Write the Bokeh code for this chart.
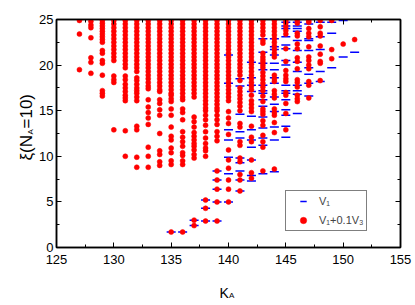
import math
from bokeh.plotting import figure
from bokeh.layouts import column, row
from bokeh.models import (Range1d, LinearAxis, SingleIntervalTicker, Label,
                          Legend, LegendItem, ColumnDataSource, CustomJSTickFormatter)
from bokeh.embed import file_html
from bokeh.resources import INLINE

# ---- V1 + 0.1 V3 (red dots), xi values per K_A ----
red_127 = [24.9, 23.4, 19.5]
red_128 = [24.8, 24.4, 24.1, 23.0, 20.8, 20.3, 19.1]
red_129 = [24.9, 24.6, 24.3, 24.0, 23.7, 23.4, 23.1, 22.8, 22.5, 21.6, 21.3, 20.5, 20.2, 18.9, 17.2, 16.9, 16.6]
red_130 = [24.9, 24.5, 24.1, 23.7, 23.3, 22.9, 22.5, 22.1, 21.7, 21.3, 20.9, 20.5, 18.8, 18.4, 18.1, 12.9]
red_131 = [24.9, 24.5, 24.1, 23.7, 23.3, 22.9, 22.5, 22.1, 21.7, 21.3, 20.9, 20.5, 20.1, 19.7, 18.8, 18.4,
           17.9, 17.5, 17.1, 16.7, 16.4, 16.1, 12.8, 10.0]
red_132 = [24.9, 24.5, 24.1, 23.7, 23.3, 22.9, 22.5, 22.1, 21.7, 21.3, 20.9, 20.5, 20.1, 19.7, 19.3, 18.6,
           18.3, 17.9, 17.5, 17.2, 16.9, 16.5, 16.1, 13.3, 12.9, 9.9, 8.8]
red_133 = [24.9, 24.5, 24.1, 23.7, 23.3, 22.9, 22.5, 22.1, 21.7, 21.3, 20.9, 20.5, 20.1, 19.7, 19.3, 18.9,
           18.5, 18.1, 17.7, 17.4, 16.2, 15.4, 14.8, 14.2, 13.5, 11.0, 10.0, 8.8]
red_134 = [24.9, 24.5, 24.1, 23.7, 23.3, 22.9, 22.5, 22.1, 21.7, 21.3, 20.9, 20.5, 20.1, 19.7, 19.3, 18.9,
           18.5, 18.1, 17.7, 17.3, 17.1, 16.2, 15.8, 15.1, 14.5, 12.5, 10.6, 10.2, 9.4, 9.0]
red_135 = [24.9, 24.5, 24.1, 23.7, 23.3, 22.9, 22.5, 22.1, 21.7, 21.3, 20.9, 20.5, 20.1, 19.7, 19.3, 18.9,
           18.5, 18.1, 17.7, 17.3, 16.9, 16.7, 16.3, 16.0, 15.2, 14.5, 13.2, 12.2, 11.8, 10.9, 10.4, 9.5,
           9.1, 1.7]
red_136 = [24.9, 24.5, 24.1, 23.7, 23.3, 22.9, 22.5, 22.1, 21.7, 21.3, 20.9, 20.5, 20.1, 19.7, 19.3, 18.9,
           18.5, 18.1, 17.7, 17.3, 16.9, 16.5, 16.2, 15.2, 14.8, 14.0, 12.7, 12.1, 11.6, 11.1, 10.4, 10.1,
           9.5, 9.1, 1.7]
red_137 = [24.9, 24.5, 24.1, 23.7, 23.3, 22.9, 22.5, 22.1, 21.7, 21.3, 20.9, 20.5, 20.1, 19.7, 19.3, 18.9,
           18.5, 18.1, 17.7, 17.3, 16.9, 16.5, 14.3, 13.8, 13.2, 12.6, 12.2, 11.8, 11.4, 11.1, 10.7, 10.2,
           9.8, 3.0, 2.4]
red_138 = [24.9, 24.5, 24.1, 23.7, 23.3, 22.9, 22.5, 22.1, 21.7, 21.3, 20.9, 20.5, 20.1, 19.7, 19.3, 18.9,
           18.5, 18.1, 17.7, 17.3, 16.9, 16.5, 16.1, 15.7, 15.3, 15.0, 14.5, 14.0, 13.4, 12.7, 12.0, 11.4,
           10.9, 10.6, 10.0, 5.2, 4.3, 2.9]
red_139 = [24.9, 24.5, 24.1, 23.7, 23.3, 22.9, 22.5, 22.1, 21.7, 21.3, 20.9, 20.5, 20.1, 19.7, 19.3, 18.9,
           18.5, 18.1, 17.7, 17.3, 16.9, 16.5, 16.1, 15.7, 15.3, 15.0, 14.5, 14.0, 13.5, 12.7, 12.2, 11.7,
           8.4, 7.4, 6.4, 5.0, 2.9]
red_140 = [24.9, 24.5, 24.1, 23.7, 23.3, 22.9, 22.5, 22.1, 21.7, 21.3, 20.9, 20.5, 20.1, 19.7, 19.3, 18.9,
           18.5, 18.1, 17.7, 17.3, 16.9, 16.5, 16.1, 14.9, 14.2, 13.6, 12.4, 10.7, 9.6, 8.7, 7.4, 6.4, 5.0]
red_141 = [24.9, 24.5, 24.1, 23.7, 23.3, 22.9, 22.5, 22.1, 21.7, 21.3, 20.9, 20.5, 20.1, 19.7, 19.3, 18.9,
           18.3, 17.5, 17.1, 16.7, 16.3, 15.9, 15.5, 15.0, 13.6, 13.2, 11.6, 11.2, 9.8, 9.4, 8.0, 7.4, 6.2]
red_142 = [24.9, 24.5, 24.1, 23.7, 23.3, 22.9, 22.5, 22.1, 21.7, 21.3, 20.9, 20.5, 20.1, 19.7, 19.3, 18.9,
           18.5, 18.1, 17.7, 17.3, 16.7, 16.1, 15.7, 15.3, 14.9, 13.3, 12.1, 11.6, 9.6, 8.2, 7.6]
red_143 = [24.9, 24.5, 24.1, 23.7, 23.3, 22.7, 22.4, 21.3, 20.9, 20.6, 20.3, 20.0, 19.7, 19.2, 18.8, 18.4,
           18.0, 17.6, 17.2, 16.6, 16.0, 15.2, 14.9, 14.6, 13.9, 13.4, 12.3, 11.6, 11.0, 8.4]
red_144 = [24.9, 24.5, 24.1, 23.7, 23.3, 22.9, 22.5, 22.1, 21.7, 21.3, 20.9, 18.9, 18.5, 18.2, 17.2, 16.8,
           16.4, 15.2, 14.8, 14.5, 13.7, 12.6, 8.6]
red_145 = [24.9, 24.6, 24.2, 23.8, 23.4, 21.8, 20.4, 19.4, 18.9, 18.5, 18.2, 17.0, 16.7, 15.8, 14.7, 12.9]
red_146 = [24.9, 24.6, 23.5, 23.2, 22.3, 21.8, 20.8, 20.4, 19.6, 18.4, 18.1, 17.6, 16.7, 16.3, 16.0]
red_147 = [24.9, 24.7, 24.0, 23.5, 23.1, 22.0, 20.9, 20.5, 20.0, 19.6, 18.2, 17.8, 16.4]
red_148 = [24.9, 24.2, 23.5, 23.2, 22.1, 21.2, 20.4, 20.2, 18.3]
red_149 = [24.9, 21.7, 20.7]
red_150 = [22.3]
red_151 = [22.8]

# ---- V1 (blue dashes), xi values per K_A ----
blue_135 = [1.7]
blue_136 = [1.7]
blue_137 = [3.0, 2.4]
blue_138 = [5.2, 4.3, 2.9]
blue_139 = [8.4, 7.4, 6.4, 5.0, 2.9]
blue_140 = [21.1, 18.0, 12.9, 11.8, 9.9, 8.1, 5.0]
blue_141 = [18.5, 17.7, 14.6, 12.7, 12.0, 9.8, 9.3, 8.4, 7.4, 6.2]
blue_142 = [20.3, 18.6, 17.8, 17.1, 14.4, 12.9, 11.8, 11.0, 9.6, 7.9, 7.3]
blue_143 = [22.9, 21.4, 20.2, 19.5, 17.8, 17.2, 16.9, 16.2, 15.5, 14.3, 13.1, 12.0, 11.2, 8.1]
blue_144 = [22.9, 22.0, 21.7, 21.1, 20.2, 19.5, 18.6, 18.0, 16.5, 15.7, 14.9, 13.2, 11.8, 8.3]
blue_145 = [24.7, 24.3, 24.0, 23.1, 22.2, 21.8, 20.5, 20.0, 17.8, 17.2, 16.9, 16.2, 15.1, 14.5, 13.3, 12.1]
blue_146 = [24.7, 24.3, 24.0, 23.7, 22.7, 21.6, 20.3, 19.3, 17.8, 17.2, 16.8, 14.7]
blue_147 = [24.5, 22.9, 22.7, 21.6, 19.7, 19.0, 18.0, 16.6]
blue_148 = [24.7, 23.1, 21.7, 19.3, 18.2]
blue_149 = [24.7, 23.5, 19.7]
blue_150 = [24.9, 20.9]
blue_151 = [21.4]

red_cols = {127: red_127, 128: red_128, 129: red_129, 130: red_130, 131: red_131, 132: red_132,
            133: red_133, 134: red_134, 135: red_135, 136: red_136, 137: red_137, 138: red_138,
            139: red_139, 140: red_140, 141: red_141, 142: red_142, 143: red_143, 144: red_144,
            145: red_145, 146: red_146, 147: red_147, 148: red_148, 149: red_149, 150: red_150,
            151: red_151}
blue_cols = {135: blue_135, 136: blue_136, 137: blue_137, 138: blue_138, 139: blue_139, 140: blue_140,
             141: blue_141, 142: blue_142, 143: blue_143, 144: blue_144, 145: blue_145, 146: blue_146,
             147: blue_147, 148: blue_148, 149: blue_149, 150: blue_150, 151: blue_151}

rx, ry = [], []
for k, vals in red_cols.items():
    rx += [k] * len(vals)
    ry += vals
bx, by = [], []
for k, vals in blue_cols.items():
    bx += [k] * len(vals)
    by += vals

FONT = "Liberation Sans"

# ---------------- main plot ----------------
p = figure(width=377, height=268, output_backend="svg", toolbar_location=None,
           x_range=Range1d(125, 155), y_range=Range1d(0, 25),
           min_border_left=18, min_border_right=13, min_border_top=19, min_border_bottom=21)
p.xgrid.visible = False
p.ygrid.visible = False
p.outline_line_color = "black"
p.outline_line_width = 1.5
p.background_fill_color = "white"
p.border_fill_color = "white"

p.add_layout(LinearAxis(), "above")
p.add_layout(LinearAxis(), "right")

for ax in p.axis:
    ax.ticker = SingleIntervalTicker(interval=5, num_minor_ticks=2)
    ax.major_tick_in = 5
    ax.major_tick_out = 0
    ax.minor_tick_in = 3
    ax.minor_tick_out = 0
    ax.axis_line_width = 1.5
    ax.axis_line_color = "black"
    ax.major_tick_line_color = "black"
    ax.minor_tick_line_color = "black"
    ax.major_label_text_font = FONT
    ax.major_label_text_color = "black"
    ax.major_label_text_font_size = "13px"
    ax.major_label_standoff = 3

p.below[0].major_label_standoff = 7
for ax in (p.above[0], p.right[0]):
    ax.formatter = CustomJSTickFormatter(code="return ''")
    ax.major_label_standoff = 0

src_b = ColumnDataSource(dict(k=bx, xi=by))
src_r = ColumnDataSource(dict(k=rx, xi=ry))
blue_r = p.scatter("k", "xi", source=src_b, marker="dash", size=9, line_color="#0000ff",
                   line_width=1.5)
red_r = p.scatter("k", "xi", source=src_r, marker="circle", size=5, fill_color="#ff0000",
                  line_color="#ff0000", line_width=0.5)

legend = Legend(items=[LegendItem(label="V₁", renderers=[blue_r]),
                       LegendItem(label="V₁+0.1V₃", renderers=[red_r])],
                location=(229, 16), orientation="vertical", padding=2, spacing=3,
                glyph_width=30, glyph_height=16, label_height=16, label_standoff=1,
                label_text_font_size="11px", label_text_font=FONT, margin=0,
                border_line_color="black", border_line_width=1, background_fill_alpha=1)
p.add_layout(legend)


def lab(text, x, y, size, angle=0.0):
    return Label(x=x, y=y, x_units="screen", y_units="screen", text=text, angle=angle,
                 text_font=FONT, text_font_size=size, text_color="black",
                 text_align="left", text_baseline="alphabetic")


def blank(w, h):
    f = figure(width=w, height=h, output_backend="svg", toolbar_location=None,
               x_range=Range1d(0, 1), y_range=Range1d(0, 1),
               x_axis_type=None, y_axis_type=None, min_border=0)
    f.outline_line_color = None
    f.background_fill_color = "white"
    f.border_fill_color = "white"
    return f


# ---------------- y-axis title: xi(N_A=10) ----------------
ylab = blank(36, 268)
a = math.pi / 2
ylab.add_layout(lab("ξ(N", 25.5, 87, "17px", a))
ylab.add_layout(lab("A", 29.5, 113, "8px", a))
ylab.add_layout(lab("=10)", 25.5, 119, "17px", a))

# ---------------- x-axis title: K_A ----------------
xlab = blank(413, 34)
xlab.add_layout(lab("K", 219, 10, "14px"))
xlab.add_layout(lab("A", 228.5, 7.5, "8px"))

layout = column(row(ylab, p, spacing=0), xlab, spacing=0)

open("out.html", "w").write(file_html(layout, INLINE))
